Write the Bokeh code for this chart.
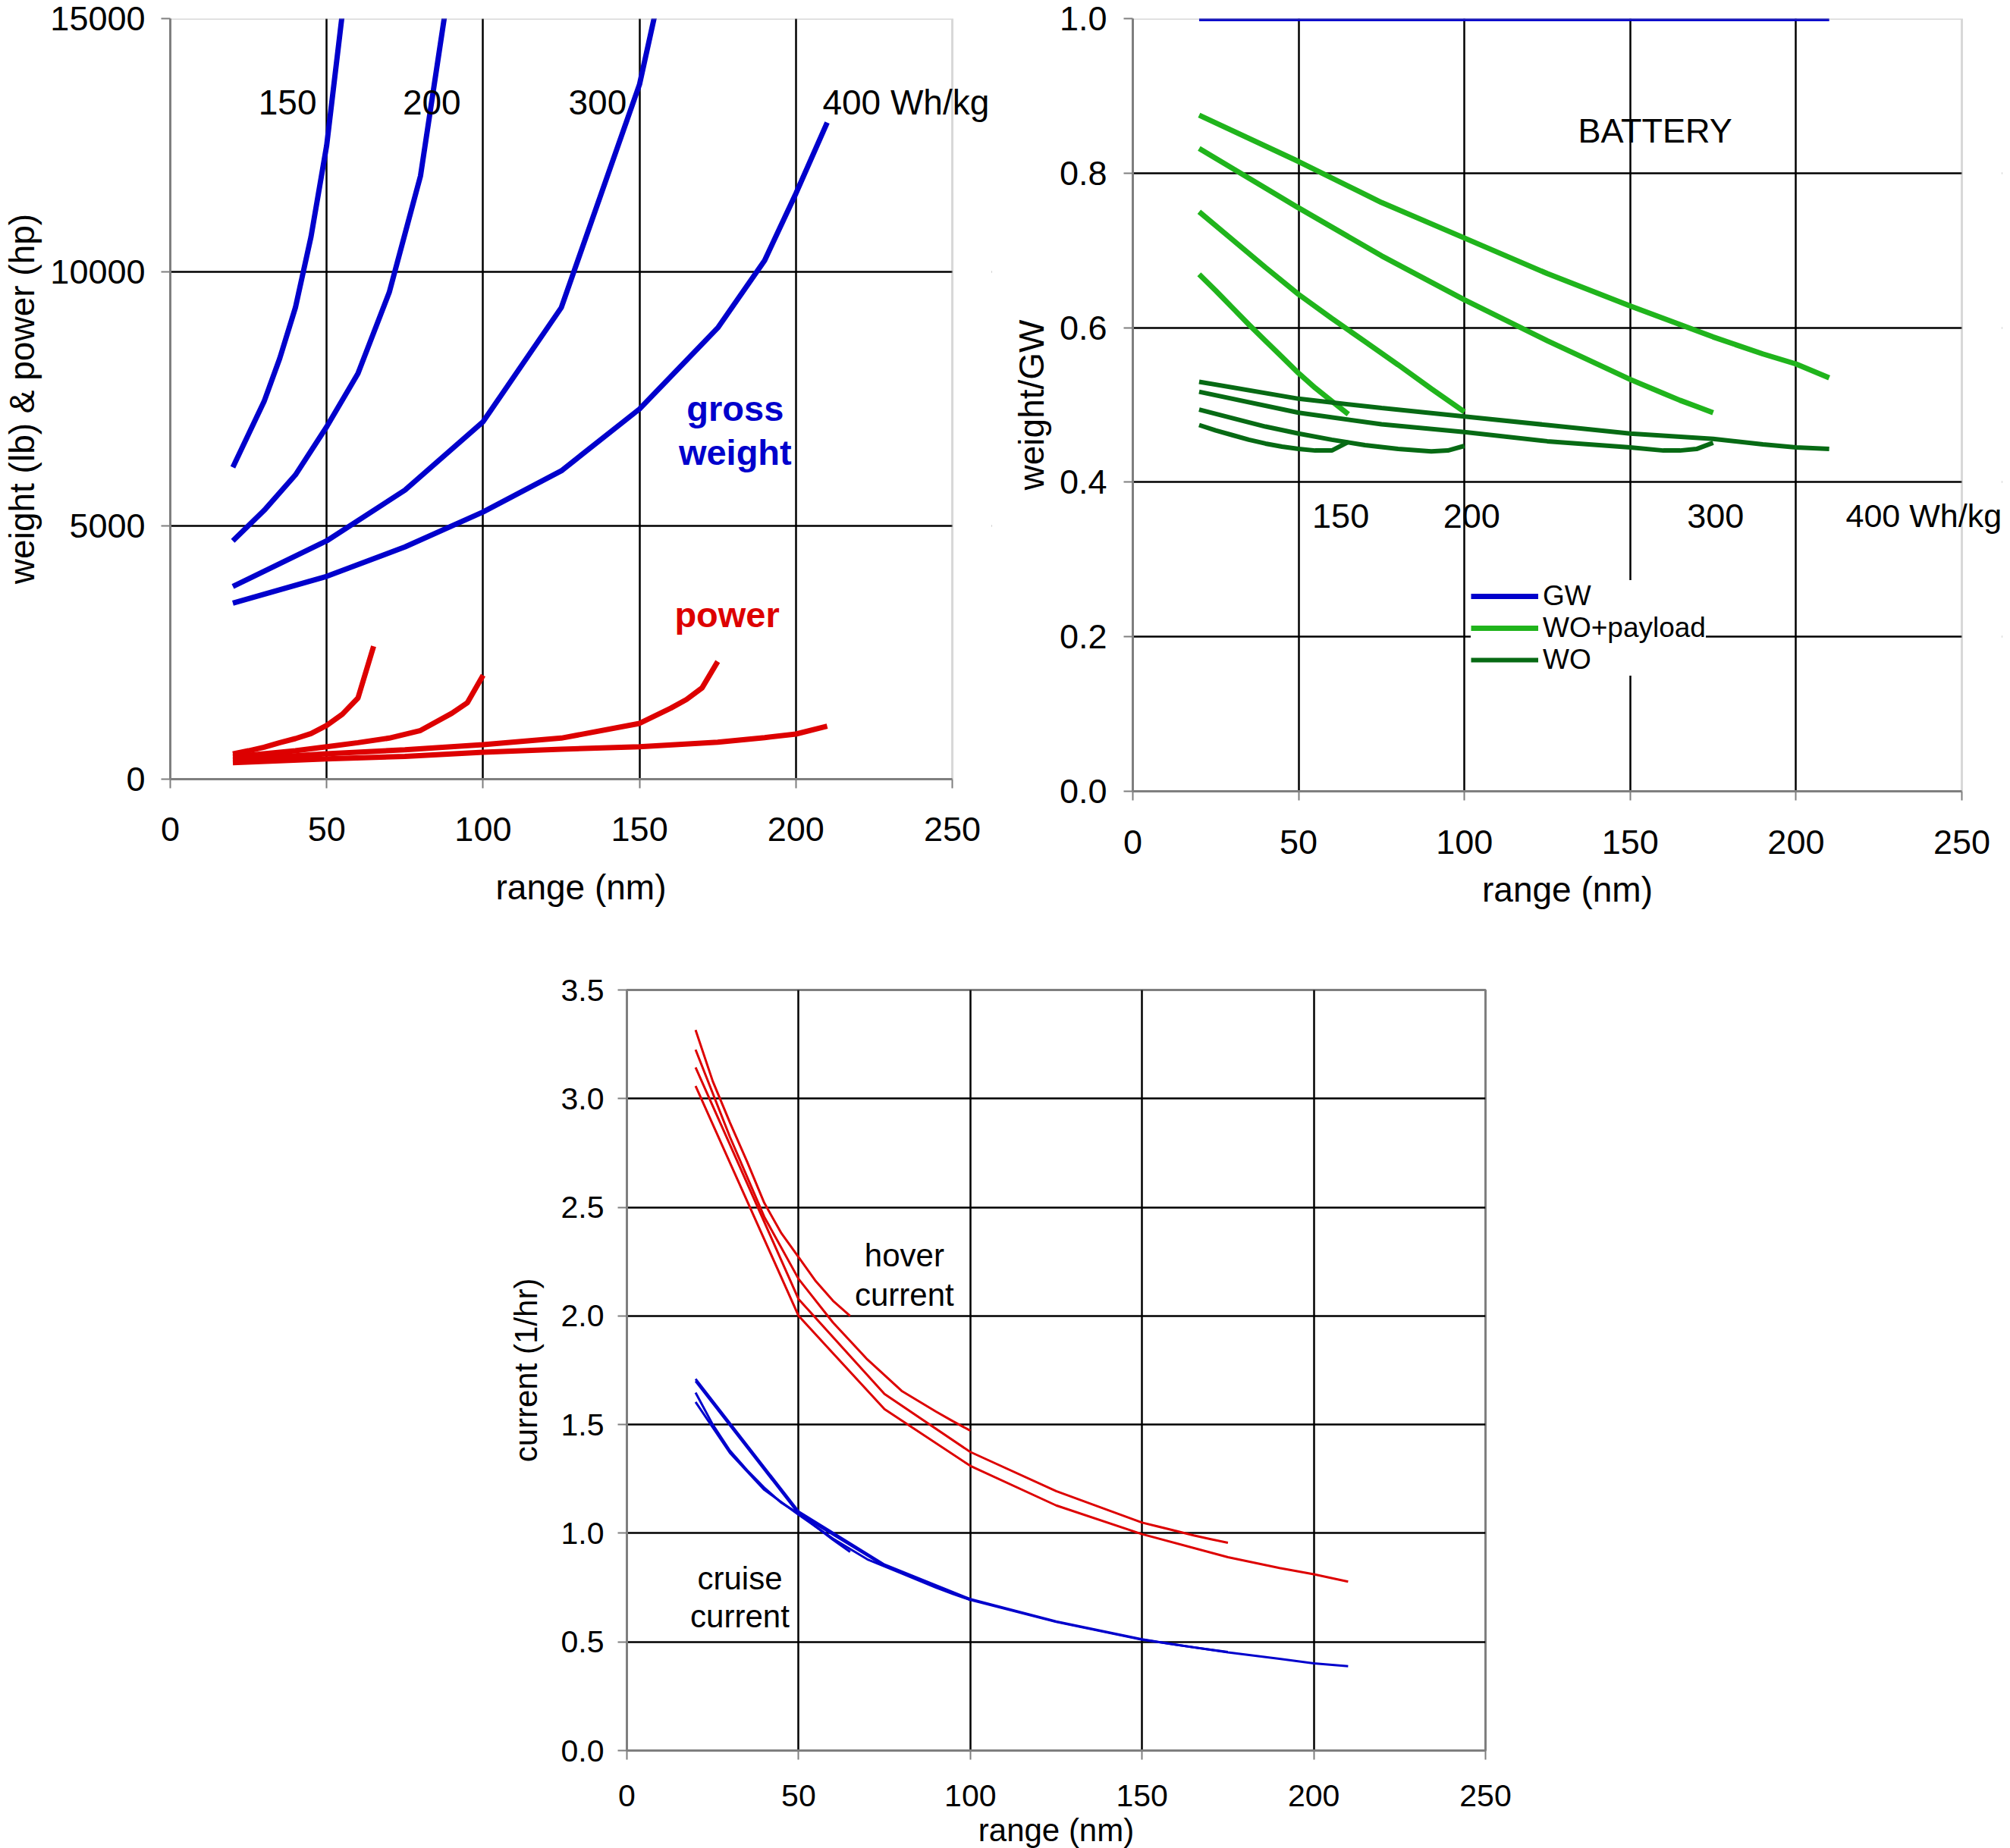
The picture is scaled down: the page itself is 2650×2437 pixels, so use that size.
from bokeh.plotting import figure
from bokeh.models import (Range1d, Label, Legend, LegendItem, FixedTicker,
                          NumeralTickFormatter, Spacer, BoxAnnotation)
from bokeh.layouts import row, column
from bokeh.embed import file_html
from bokeh.resources import INLINE

FONT = "Liberation Sans"

# ---------------- data ----------------
x150 = [20, 25, 30, 35, 40, 45, 50, 55, 60, 65]
x200 = [20, 30, 40, 50, 60, 70, 80, 90, 95, 100]
x300 = [20, 50, 75, 100, 125, 150, 160, 165, 170, 175]
x400 = [20, 50, 75, 100, 125, 150, 175, 190, 200, 210]

# gross weight (lb)
gw_150 = [6150, 6800, 7450, 8300, 9300, 10700, 12500, 15100, 19500, 31000]
gw_200 = [4700, 5300, 6000, 6950, 8000, 9600, 11900, 16000, 19000, 23000]
gw_300 = [3800, 4700, 5700, 7050, 9300, 13700, 16500, 18000, 20500, 26000]
gw_400 = [3470, 4000, 4580, 5270, 6080, 7300, 8900, 10230, 11550, 12950]
# power (hp)
pw_150 = [500, 560, 630, 720, 800, 900, 1060, 1280, 1600, 2620]
pw_200 = [440, 500, 560, 640, 720, 810, 960, 1300, 1510, 2050]
pw_300 = [380, 500, 580, 680, 810, 1100, 1400, 1570, 1800, 2320]
pw_400 = [325, 400, 450, 530, 590, 640, 730, 820, 890, 1045]

# weight / GW
gwn_x = [20, 65, 100, 175, 210]
gwn = [1.0, 1.0, 1.0, 1.0, 1.0]
wop_150 = [0.669, 0.648, 0.626, 0.604, 0.583, 0.562, 0.541, 0.522, 0.505, 0.488]
wop_200 = [0.750, 0.714, 0.678, 0.643, 0.612, 0.582, 0.552, 0.521, 0.506, 0.491]
wop_300 = [0.832, 0.755, 0.693, 0.636, 0.583, 0.533, 0.515, 0.506, 0.498, 0.490]
wop_400 = [0.875, 0.815, 0.762, 0.716, 0.670, 0.628, 0.588, 0.566, 0.553, 0.535]
wo_150 = [0.474, 0.467, 0.461, 0.455, 0.450, 0.446, 0.443, 0.441, 0.441, 0.452]
wo_200 = [0.494, 0.483, 0.472, 0.463, 0.455, 0.448, 0.443, 0.440, 0.441, 0.447]
wo_300 = [0.517, 0.490, 0.475, 0.465, 0.453, 0.445, 0.441, 0.441, 0.443, 0.451]
wo_400 = [0.530, 0.508, 0.496, 0.485, 0.474, 0.463, 0.456, 0.449, 0.445, 0.443]

# current (1/hr)
hov_150 = [3.316, 3.08, 2.89, 2.71, 2.52, 2.38, 2.27, 2.16, 2.07, 2.00]
hov_200 = [3.225, 2.824, 2.456, 2.17, 1.97, 1.80, 1.655, 1.56, 1.515, 1.472]
hov_300 = [3.144, 2.077, 1.641, 1.374, 1.194, 1.049, 1.01, 0.99, 0.973, 0.956]
hov_400 = [3.058, 2.0, 1.571, 1.310, 1.128, 0.996, 0.89, 0.84, 0.811, 0.777]
cru_150 = [1.647, 1.50, 1.38, 1.29, 1.21, 1.14, 1.09, 1.03, 0.97, 0.914]
cru_200 = [1.604, 1.37, 1.20, 1.085, 0.975, 0.88, 0.815, 0.75, 0.72, 0.693]
cru_300 = [1.71, 1.10, 0.856, 0.697, 0.594, 0.512, 0.487, 0.475, 0.464, 0.454]
cru_400 = [1.70, 1.09, 0.85, 0.693, 0.592, 0.510, 0.452, 0.422, 0.401, 0.388]

x_ticks = [0, 50, 100, 150, 200, 250]
y1_ticks = [0, 5000, 10000, 15000]
y2_ticks = [0.0, 0.2, 0.4, 0.6, 0.8, 1.0]
y3_ticks = [0.0, 0.5, 1.0, 1.5, 2.0, 2.5, 3.0, 3.5]
XMAX = 250

BLUE = "#0000CC"
RED = "#DD0000"
LGREEN = "#20B41C"
DGREEN = "#076A14"
GREY = "#7F7F7F"


def style(p, xt, yt, yfmt, tick_fs, lab_fs, xstand, ystand, xlab_stand, ylab_stand):
    p.background_fill_color = "white"
    p.border_fill_color = "white"
    p.xaxis.ticker = FixedTicker(ticks=xt)
    p.yaxis.ticker = FixedTicker(ticks=yt)
    p.yaxis.formatter = NumeralTickFormatter(format=yfmt)
    p.xaxis.formatter = NumeralTickFormatter(format="0")
    for ax in (p.xaxis[0], p.yaxis[0]):
        ax.axis_line_color = GREY
        ax.axis_line_width = 3
        ax.major_tick_line_color = GREY
        ax.major_tick_line_width = 2
        ax.major_tick_in = 0
        ax.major_tick_out = 12
        ax.minor_tick_line_color = None
        ax.major_label_text_font = FONT
        ax.major_label_text_font_size = tick_fs
        ax.major_label_text_color = "black"
        ax.axis_label_text_font = FONT
        ax.axis_label_text_font_size = lab_fs
        ax.axis_label_text_font_style = "normal"
        ax.axis_label_text_color = "black"
    p.xaxis.major_label_standoff = xstand
    p.yaxis.major_label_standoff = ystand
    p.xaxis.axis_label_standoff = xlab_stand
    p.yaxis.axis_label_standoff = ylab_stand
    for g in (p.xgrid[0], p.ygrid[0]):
        g.grid_line_color = "black"
        g.grid_line_width = 2.5


def open_frame(p, ymax):
    """Frame drawn as a box so texts may run past the right edge."""
    p.outline_line_color = None
    p.xaxis.bounds = (0, XMAX)
    p.add_layout(BoxAnnotation(left=XMAX, fill_color="white", fill_alpha=1.0,
                               line_color=None, level="glyph"))
    p.add_layout(BoxAnnotation(left=0, right=XMAX, bottom=0, top=ymax,
                               fill_color=None, line_color=GREY, line_width=3))


def label(p, x, y, text, size, color="black", style_="normal", align="center"):
    p.add_layout(Label(x=x, y=y, text=text, text_font=FONT, text_font_size=size,
                       text_color=color, text_font_style=style_, text_align=align,
                       text_baseline="middle"))


# ---------------- chart 1 ----------------
p1 = figure(frame_width=1083, frame_height=1003, x_range=Range1d(0, 262.6),
            y_range=Range1d(0, 15000), output_backend="svg", toolbar_location=None,
            min_border_left=223, min_border_right=10, min_border_top=24,
            min_border_bottom=173, x_axis_label="range (nm)",
            y_axis_label="weight (lb) & power (hp)")
style(p1, x_ticks, y1_ticks, "0", "45px", "46px", 38, 21, 32, 8)
p1.xgrid.ticker = FixedTicker(ticks=x_ticks[1:-1])
p1.ygrid.ticker = FixedTicker(ticks=y1_ticks[1:-1])
open_frame(p1, 15000)
for xs, ys in ((x150, gw_150), (x200, gw_200), (x300, gw_300), (x400, gw_400)):
    p1.line(xs, ys, line_color=BLUE, line_width=7)
for xs, ys in ((x150, pw_150), (x200, pw_200), (x300, pw_300), (x400, pw_400)):
    p1.line(xs, ys, line_color=RED, line_width=7)
label(p1, 37.5, 13350, "150", "46px")
label(p1, 83.6, 13350, "200", "46px")
label(p1, 136.6, 13350, "300", "46px")
label(p1, 208.5, 13350, "400 Wh/kg", "46px", align="left")
label(p1, 180.6, 7306, "gross", "47px", BLUE, "bold")
label(p1, 180.6, 6441, "weight", "47px", BLUE, "bold")
label(p1, 178.0, 3250, "power", "47px", RED, "bold")

# ---------------- chart 2 ----------------
p2 = figure(frame_width=1146, frame_height=1019, x_range=Range1d(0, 262.12),
            y_range=Range1d(0, 1.0), output_backend="svg", toolbar_location=None,
            min_border_left=176, min_border_right=2, min_border_top=24,
            min_border_bottom=157, x_axis_label="range (nm)",
            y_axis_label="weight/GW")
style(p2, x_ticks, y2_ticks, "0.0", "45px", "46px", 39, 22, 18, 8)
p2.xgrid.ticker = FixedTicker(ticks=x_ticks[1:-1])
p2.ygrid.ticker = FixedTicker(ticks=y2_ticks[1:])
open_frame(p2, 1.0)
r_gw = p2.line(gwn_x, gwn, line_color=BLUE, line_width=7)
r_wop = None
for xs, ys in ((x150, wop_150), (x200, wop_200), (x300, wop_300), (x400, wop_400)):
    r = p2.line(xs, ys, line_color=LGREEN, line_width=7)
    r_wop = r_wop or r
r_wo = None
for xs, ys in ((x150, wo_150), (x200, wo_200), (x300, wo_300), (x400, wo_400)):
    r = p2.line(xs, ys, line_color=DGREEN, line_width=6)
    r_wo = r_wo or r
label(p2, 157.5, 0.8546, "BATTERY", "45px")
label(p2, 62.7, 0.3566, "150", "45px")
label(p2, 102.2, 0.3566, "200", "45px")
label(p2, 175.7, 0.3566, "300", "45px")
label(p2, 215.0, 0.3566, "400 Wh/kg", "43px", align="left")
legend = Legend(items=[LegendItem(label="GW", renderers=[r_gw]),
                       LegendItem(label="WO+payload", renderers=[r_wop]),
                       LegendItem(label="WO", renderers=[r_wo])],
                location=(446, 152), orientation="vertical",
                label_text_font=FONT, label_text_font_size="37px",
                label_text_color="black",
                glyph_width=89, glyph_height=36, label_height=36,
                label_standoff=6, padding=10, spacing=0, margin=0,
                border_line_color=None, background_fill_color="white",
                background_fill_alpha=1.0)
p2.add_layout(legend, "center")

# ---------------- chart 3 ----------------
p3 = figure(frame_width=1132, frame_height=1003, x_range=Range1d(0, 250),
            y_range=Range1d(0, 3.5), output_backend="svg", toolbar_location=None,
            min_border_left=160, min_border_right=60, min_border_top=104,
            min_border_bottom=128, x_axis_label="range (nm)",
            y_axis_label="current (1/hr)")
style(p3, x_ticks, y3_ticks, "0.0", "41px", "42px", 33, 18, 5, 20)
p3.outline_line_color = GREY
p3.outline_line_width = 3
p3.xgrid.ticker = FixedTicker(ticks=x_ticks)
p3.ygrid.ticker = FixedTicker(ticks=y3_ticks)
for xs, ys in ((x150, hov_150), (x200, hov_200), (x300, hov_300), (x400, hov_400)):
    p3.line(xs, ys, line_color=RED, line_width=3)
for xs, ys in ((x150, cru_150), (x200, cru_200), (x300, cru_300), (x400, cru_400)):
    p3.line(xs, ys, line_color=BLUE, line_width=3)
label(p3, 80.8, 2.277, "hover", "42px")
label(p3, 80.8, 2.097, "current", "42px")
label(p3, 32.9, 0.792, "cruise", "42px")
label(p3, 32.9, 0.618, "current", "42px")

layout = column(row(p1, p2), row(Spacer(width=666, height=10), p3))

open("out.html", "w").write(file_html(layout, INLINE))
